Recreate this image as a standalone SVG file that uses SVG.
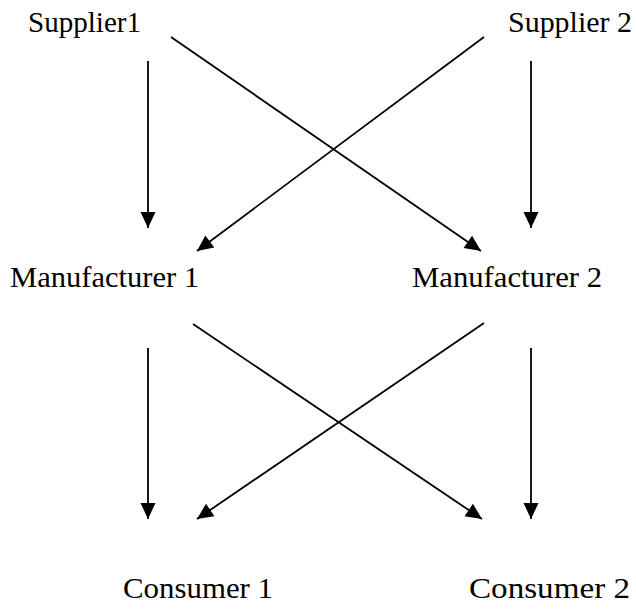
<svg xmlns="http://www.w3.org/2000/svg" width="636" height="613" viewBox="0 0 636 613">
<defs>
<style>
.lbl{font-family:"Liberation Serif","Times New Roman",serif;font-size:30px;fill:#000}
.c{stroke:#000;stroke-width:1.8;fill:none;marker-end:url(#ah)}
</style>
<marker id="ah" markerUnits="userSpaceOnUse" markerWidth="18" markerHeight="18" viewBox="0 0 18 18" refX="17" refY="9" orient="auto">
<path d="M1,1.5 L17,9 L1,16.5 Z" fill="#000"/>
</marker>
</defs>
<rect width="636" height="613" fill="#fff"/>
<g id="connectors">
<line class="c" x1="148" y1="61" x2="148" y2="228"/>
<line class="c" x1="531" y1="61" x2="531" y2="228"/>
<line class="c" x1="171" y1="37" x2="481" y2="251"/>
<line class="c" x1="484" y1="37" x2="197" y2="251"/>
<line class="c" x1="148" y1="348" x2="148" y2="519"/>
<line class="c" x1="531" y1="348" x2="531" y2="519"/>
<line class="c" x1="193" y1="324" x2="482" y2="519"/>
<line class="c" x1="484" y1="323" x2="197" y2="519"/>
</g>
<g id="supplier1"><text class="lbl" x="28" y="32" textLength="113" lengthAdjust="spacingAndGlyphs">Supplier1</text></g>
<g id="supplier2"><text class="lbl" x="508" y="32" textLength="124" lengthAdjust="spacingAndGlyphs">Supplier 2</text></g>
<g id="manufacturer1"><text class="lbl" x="10" y="287" textLength="189" lengthAdjust="spacingAndGlyphs">Manufacturer 1</text></g>
<g id="manufacturer2"><text class="lbl" x="412" y="287" textLength="190" lengthAdjust="spacingAndGlyphs">Manufacturer 2</text></g>
<g id="consumer1"><text class="lbl" x="123" y="598" textLength="150" lengthAdjust="spacingAndGlyphs">Consumer 1</text></g>
<g id="consumer2"><text class="lbl" x="469" y="598" textLength="161" lengthAdjust="spacingAndGlyphs">Consumer 2</text></g>
</svg>
